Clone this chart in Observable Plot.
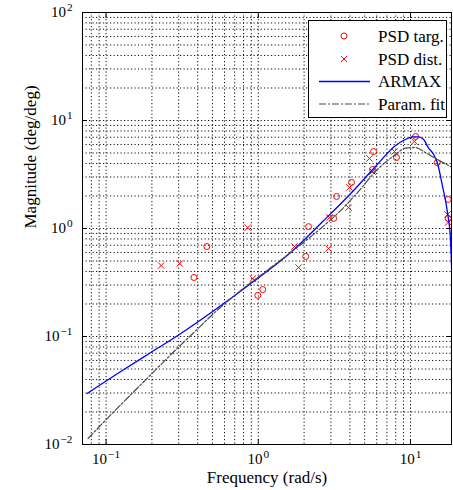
<!DOCTYPE html>
<html><head><meta charset="utf-8">
<script src="https://cdn.jsdelivr.net/npm/d3@7"></script>
<script src="https://cdn.jsdelivr.net/npm/@observablehq/plot@0.6"></script>
<style>
body{margin:0;background:#fff;}
#wrap{position:relative;width:453px;height:490px;font-family:"Liberation Serif","DejaVu Serif","Times New Roman",serif;}
#wrap svg text{font-family:"Liberation Serif","DejaVu Serif","Times New Roman",serif;}
#legend{position:absolute;left:308px;top:20px;width:137px;height:96px;border:1px solid #000;background:#fff;}
</style></head><body><div id="wrap"></div>
<script>
// PSD targ. (circles)
const targFreq = [0.378, 0.459, 0.993, 1.07, 2.05, 2.14, 3.13, 3.27, 4.10, 5.63, 5.72, 8.09, 10.8, 15.0, 17.7, 17.7];
const targMag  = [0.352, 0.681, 0.240, 0.272, 0.551, 1.04, 1.24, 1.98, 2.67, 3.52, 5.16, 4.54, 7.11, 4.08, 1.86, 1.24];
// PSD dist. (crosses)
const distFreq = [0.230, 0.305, 0.853, 0.920, 1.73, 1.84, 2.90, 2.94, 3.92, 3.98, 5.38, 5.63, 7.85, 10.6, 17.5, 17.7];
const distMag  = [0.454, 0.474, 1.02, 0.344, 0.681, 0.435, 0.653, 1.26, 1.56, 2.40, 4.45, 3.37, 5.16, 6.39, 1.35, 1.14];
// ARMAX (blue)
const armaxFreq = [0.0751, 0.131, 0.197, 0.296, 0.631, 0.893, 1.41, 1.63, 2.65, 4.23, 5.89, 7.98, 9.27, 10.3, 11.3, 12.2, 13.1, 14.2, 15.0, 16.2, 17.5, 18.3, 18.7];
const armaxMag  = [0.0297, 0.0495, 0.0711, 0.102, 0.215, 0.310, 0.506, 0.600, 1.16, 2.25, 3.75, 5.87, 6.67, 7.05, 7.05, 6.67, 5.60, 4.84, 4.08, 2.50, 1.41, 0.808, 0.367];
// Param. fit (dash-dot)
const fitFreq = [0.0762, 0.1079, 0.1459, 0.1972, 0.2667, 0.3715, 0.526, 0.767, 1.12, 1.63, 2.57, 3.48, 4.49, 5.89, 7.98, 9.27, 10.8, 12.5, 14.6, 18.3];
const fitMag  = [0.01137, 0.01896, 0.02904, 0.04449, 0.0681, 0.1066, 0.1703, 0.2667, 0.400, 0.600, 1.00, 1.47, 2.15, 3.37, 4.84, 5.55, 5.62, 5.05, 4.45, 3.75];

const xMajors = [0.1, 1, 10];
const yMajors = [0.01, 0.1, 1, 10, 100];
const xDomain = [0.07, 18.6];
const yDomain = [0.01, 100];
const xLabel = "Frequency (rad/s)";
const yLabel = "Magnitude (deg/deg)";
const legendLabels = ["PSD targ.", "PSD dist.", "ARMAX", "Param. fit"];

const red = "#ff0000", blue = "#0000ff", gray = "#4a4a4a";
const fitDash = "7,2,2,2";
const serif = '"Liberation Serif","DejaVu Serif","Times New Roman",serif';

const targ = targFreq.map((f, i) => ({f, m: targMag[i]}));
const dist = distFreq.map((f, i) => ({f, m: distMag[i]}));
const armax = armaxFreq.map((f, i) => ({f, m: armaxMag[i]}));
const fit = fitFreq.map((f, i) => ({f, m: fitMag[i]}));

const xGrid = d3.scaleLog().domain(xDomain).ticks();
const yGrid = d3.scaleLog().domain(yDomain).ticks();
const expFmt = d => String(Math.round(Math.log10(d)));

const gridStyle = {stroke: "#000", strokeDasharray: "1.2,2.3", strokeOpacity: 0.95};

const svg = Plot.plot({
  width: 453, height: 490,
  marginLeft: 82, marginRight: 2, marginTop: 12, marginBottom: 46,
  x: {type: "log", domain: xDomain, label: null},
  y: {type: "log", domain: yDomain, label: null},
  style: {fontFamily: serif, fontSize: "15px", color: "#000", background: "#fff"},
  marks: [
    Plot.ruleX(xGrid, gridStyle),
    Plot.ruleY(yGrid, gridStyle),
    Plot.dot(targ, {x: "f", y: "m", symbol: "circle", r: 3, stroke: red, fill: "none", strokeWidth: 1}),
    Plot.dot(dist, {x: "f", y: "m", symbol: "times", r: 3, stroke: red, strokeWidth: 1}),
    Plot.line(armax, {x: "f", y: "m", stroke: blue, strokeWidth: 1.3, curve: "monotone-x", clip: true}),
    Plot.line(fit, {x: "f", y: "m", stroke: gray, strokeWidth: 1.2, strokeDasharray: fitDash, curve: "monotone-x", clip: true}),
    Plot.frame({stroke: "#000", strokeWidth: 1}),
    Plot.axisX(xMajors, {anchor: "bottom", tickSize: 0, tickPadding: 9, tickFormat: expFmt, fontSize: 15, label: null}),
    Plot.axisY(yMajors, {anchor: "left", tickSize: 0, tickPadding: 10, tickFormat: expFmt, fontSize: 15, label: null}),
    Plot.axisX(xMajors, {anchor: "bottom", tickSize: -5, fill: "none", label: null}),
    Plot.axisX(xMajors, {anchor: "top", tickSize: -5, fill: "none", label: null}),
    Plot.axisY(yMajors, {anchor: "left", tickSize: -5, fill: "none", label: null}),
    Plot.axisY(yMajors, {anchor: "right", tickSize: -5, fill: "none", label: null}),
    Plot.text([xLabel], {frameAnchor: "bottom", dy: 38, fontSize: 17}),
    Plot.text([yLabel], {frameAnchor: "left", rotate: -90, dx: -52, fontSize: 17})
  ]
});

// superscript exponents
d3.select(svg).selectAll('g[aria-label="x-axis tick label"] text, g[aria-label="y-axis tick label"] text').each(function() {
  const e = this.textContent.replace("-", "\u2212");
  const s = d3.select(this);
  s.text(null);
  s.append("tspan").text("10");
  s.append("tspan").attr("dy", "-0.55em").attr("font-size", "0.75em").attr("dx", "1").text(e);
});

const wrap = document.getElementById("wrap");
wrap.appendChild(svg);

// legend
const leg = d3.select(wrap).append("div").attr("id", "legend");
const ls = leg.append("svg").attr("width", 137).attr("height", 96);
const rowY = [15, 38, 60.5, 83];
legendLabels.forEach((lab, i) => {
  const g = ls.append("g").attr("transform", `translate(0,${rowY[i]})`);
  if (i === 0) g.append("circle").attr("cx", 35).attr("cy", 0).attr("r", 3).attr("fill", "none").attr("stroke", red);
  if (i === 1) g.append("path").attr("d", "M32,-3L38,3M32,3L38,-3").attr("stroke", red).attr("fill", "none");
  if (i === 2) g.append("line").attr("x1", 10).attr("x2", 61).attr("stroke", blue).attr("stroke-width", 1.3);
  if (i === 3) g.append("line").attr("x1", 10).attr("x2", 61).attr("stroke", gray).attr("stroke-width", 1.2).attr("stroke-dasharray", fitDash);
  g.append("text").attr("x", 69).attr("y", 0).attr("dy", "0.33em").attr("font-size", 17)
    .attr("font-family", serif).text(lab);
});
</script></body></html>
